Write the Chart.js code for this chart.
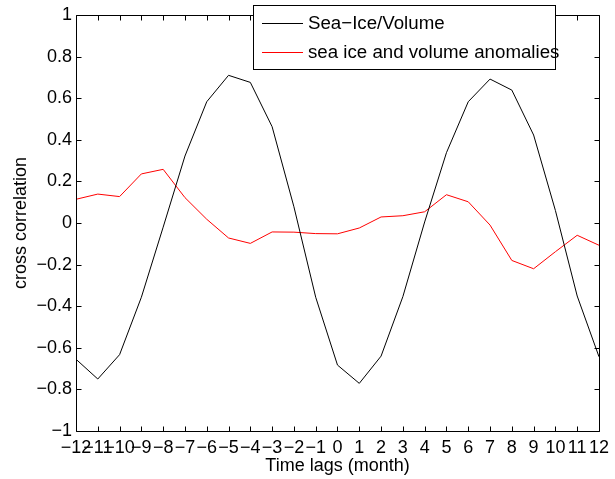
<!DOCTYPE html>
<html>
<head>
<meta charset="utf-8">
<script src="https://cdn.jsdelivr.net/npm/chart.js@4"></script>
<style>
  html, body { margin: 0; padding: 0; background: #fff; }
  #wrap { width: 615px; height: 479px; }
</style>
</head>
<body>
<div id="wrap"><canvas id="chart" width="615" height="479"></canvas></div>
<script>
const lags = [-12, -11, -10, -9, -8, -7, -6, -5, -4, -3, -2, -1, 0, 1, 2, 3, 4, 5, 6, 7, 8, 9, 10, 11, 12];
const seaIceVolume = [-0.655, -0.75, -0.633, -0.357, -0.02, 0.322, 0.583, 0.71, 0.676, 0.463, 0.078,
  -0.357, -0.683, -0.771, -0.64, -0.354, 0.005, 0.338, 0.583, 0.692, 0.639, 0.423, 0.06, -0.351, -0.643];
const anomalies = [0.114, 0.139, 0.127, 0.236, 0.258, 0.122, 0.018, -0.072, -0.098, -0.043, -0.044,
  -0.051, -0.052, -0.024, 0.029, 0.035, 0.054, 0.136, 0.102, -0.01, -0.18, -0.22, -0.138, -0.059, -0.107];
const legendLabels = ["Sea\u2212Ice/Volume", "sea ice and volume anomalies"];
const lineColors = ["#000000", "#ff0000"];

const FONT = "'Liberation Sans', Arial, Helvetica, sans-serif";

function minus(s) {
  return String(s).replace("-", "\u2212");
}

// matlab style box with ticks pointing inward on all four sides
const boxPlugin = {
  id: "box",
  afterDatasetsDraw(chart) {
    const c = chart.ctx;
    const a = chart.chartArea;
    const xs = chart.scales.x;
    const ys = chart.scales.y;
    const L = Math.round(a.left) + 0.5, R = Math.round(a.right) + 0.5;
    const T = Math.round(a.top) + 0.5, B = Math.round(a.bottom) + 0.5;
    const len = 5;
    c.save();
    c.strokeStyle = "#000";
    c.lineWidth = 1;
    c.beginPath();
    c.rect(L, T, R - L, B - T);
    xs.ticks.forEach(t => {
      const x = Math.round(xs.getPixelForValue(t.value)) + 0.5;
      c.moveTo(x, B); c.lineTo(x, B - len);
      c.moveTo(x, T); c.lineTo(x, T + len);
    });
    ys.ticks.forEach(t => {
      const y = Math.round(ys.getPixelForValue(t.value)) + 0.5;
      c.moveTo(L, y); c.lineTo(L + len, y);
      c.moveTo(R, y); c.lineTo(R - len, y);
    });
    c.stroke();
    c.restore();
  },
  afterDraw(chart) {
    // legend box, drawn over the top of the axes like matlab does
    const c = chart.ctx;
    c.save();
    c.fillStyle = "#fff";
    c.strokeStyle = "#000";
    c.lineWidth = 1;
    c.fillRect(253.5, 5.5, 302, 64);
    c.strokeRect(253.5, 5.5, 302, 64);
    c.font = "18.7px " + FONT;
    c.textBaseline = "middle";
    c.textAlign = "left";
    const rows = [23, 52];
    for (let i = 0; i < legendLabels.length; i++) {
      c.strokeStyle = lineColors[i];
      c.beginPath();
      c.moveTo(262, rows[i] + 0.5);
      c.lineTo(303, rows[i] + 0.5);
      c.stroke();
      c.fillStyle = "#000";
      c.fillText(legendLabels[i], 308, rows[i] + 1);
    }
    c.restore();
  }
};

const ctx = document.getElementById("chart").getContext("2d");
const chart = new Chart(ctx, {
  type: "line",
  data: {
    labels: lags,
    datasets: [
      {
        label: legendLabels[0],
        data: lags.map((x, i) => ({ x: x, y: seaIceVolume[i] })),
        borderColor: lineColors[0],
        borderWidth: 1,
        pointRadius: 0,
        tension: 0,
        fill: false,
      },
      {
        label: legendLabels[1],
        data: lags.map((x, i) => ({ x: x, y: anomalies[i] })),
        borderColor: lineColors[1],
        borderWidth: 1,
        pointRadius: 0,
        tension: 0,
        fill: false,
      },
    ],
  },
  options: {
    responsive: false,
    animation: false,
    events: [],
    layout: { padding: { top: 15, right: 12, left: 0, bottom: 0 } },
    plugins: {
      legend: { display: false },
      tooltip: { enabled: false },
    },
    scales: {
      x: {
        type: "linear",
        min: -12,
        max: 12,
        afterFit: s => { s.height = 48; },
        grid: { display: false, drawTicks: false },
        border: { display: false },
        ticks: {
          stepSize: 1,
          autoSkip: false,
          maxRotation: 0,
          padding: 6,
          color: "#000",
          font: { family: FONT, size: 18 },
          callback: v => minus(v),
        },
        title: {
          display: true,
          text: "Time lags (month)",
          color: "#000",
          font: { family: FONT, size: 18, lineHeight: 1 },
          padding: { top: 0, bottom: 4 },
        },
      },
      y: {
        min: -1,
        max: 1,
        afterFit: s => { s.width = 76; },
        grid: { display: false, drawTicks: false },
        border: { display: false },
        ticks: {
          stepSize: 0.2,
          padding: 4,
          color: "#000",
          font: { family: FONT, size: 18 },
          callback: v => minus(Math.round(v * 10) / 10),
        },
        title: {
          display: true,
          text: "cross correlation",
          color: "#000",
          font: { family: FONT, size: 18, lineHeight: 1 },
          padding: { top: 12, bottom: 0 },
        },
      },
    },
  },
  plugins: [boxPlugin],
});
</script>
</body>
</html>
